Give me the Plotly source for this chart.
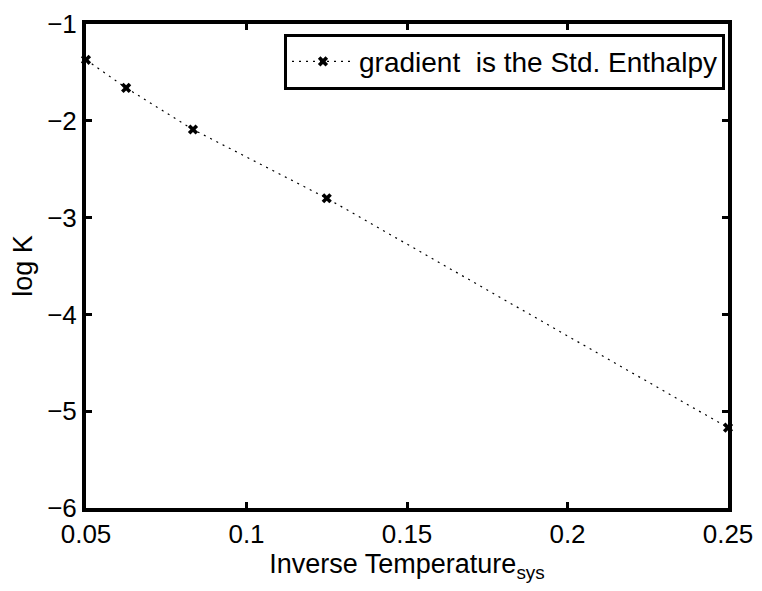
import plotly.graph_objects as go

inv_temp = [0.05, 0.0625, 0.08333, 0.125, 0.25]
log_k = [-1.37, -1.66, -2.09, -2.80, -5.17]
series_name = "gradient  is the Std. Enthalpy"
x_title = "Inverse Temperature<sub>sys</sub>"
y_title = "log K"

FONT = "Liberation Sans, Arial, Helvetica, sans-serif"
FS = 26

fig = go.Figure()
fig.add_trace(go.Scatter(
    x=inv_temp, y=log_k, mode="lines+markers", name=series_name,
    line=dict(color="black", width=1.2, dash="2px,5px"),
    marker=dict(symbol="x", size=9, color="black"),
    cliponaxis=False,
))

axis_common = dict(
    showline=True, mirror="allticks", linecolor="black", linewidth=4,
    ticks="inside", ticklen=6, tickwidth=3, tickcolor="black",
    showgrid=False, zeroline=False, ticklabeloverflow="allow",
    tickfont=dict(family=FONT, size=FS, color="black"),
)

fig.update_layout(
    width=762, height=591,
    margin=dict(l=86, r=31, t=9, b=83),
    plot_bgcolor="white", paper_bgcolor="white",
    font=dict(family=FONT, size=FS, color="black"),
    xaxis=dict(range=[0.05, 0.25], dtick=0.05, tick0=0.05,
               title=dict(text=x_title, font=dict(size=27), standoff=2),
               **axis_common),
    yaxis=dict(range=[-6, -1], dtick=1,
               title=dict(text=y_title, font=dict(size=27), standoff=8),
               **axis_common),
    showlegend=True,
    legend=dict(x=0.9953, y=0.98, xanchor="right", yanchor="top",
                bordercolor="black", borderwidth=3, bgcolor="white",
                font=dict(family=FONT, size=28, color="black"),
                itemwidth=62, tracegroupgap=0),
)

fig.write_html(
    "out.html",
    config={"displayModeBar": False},
    post_script="document.body.style.margin='0';document.body.style.overflow='hidden';",
)
